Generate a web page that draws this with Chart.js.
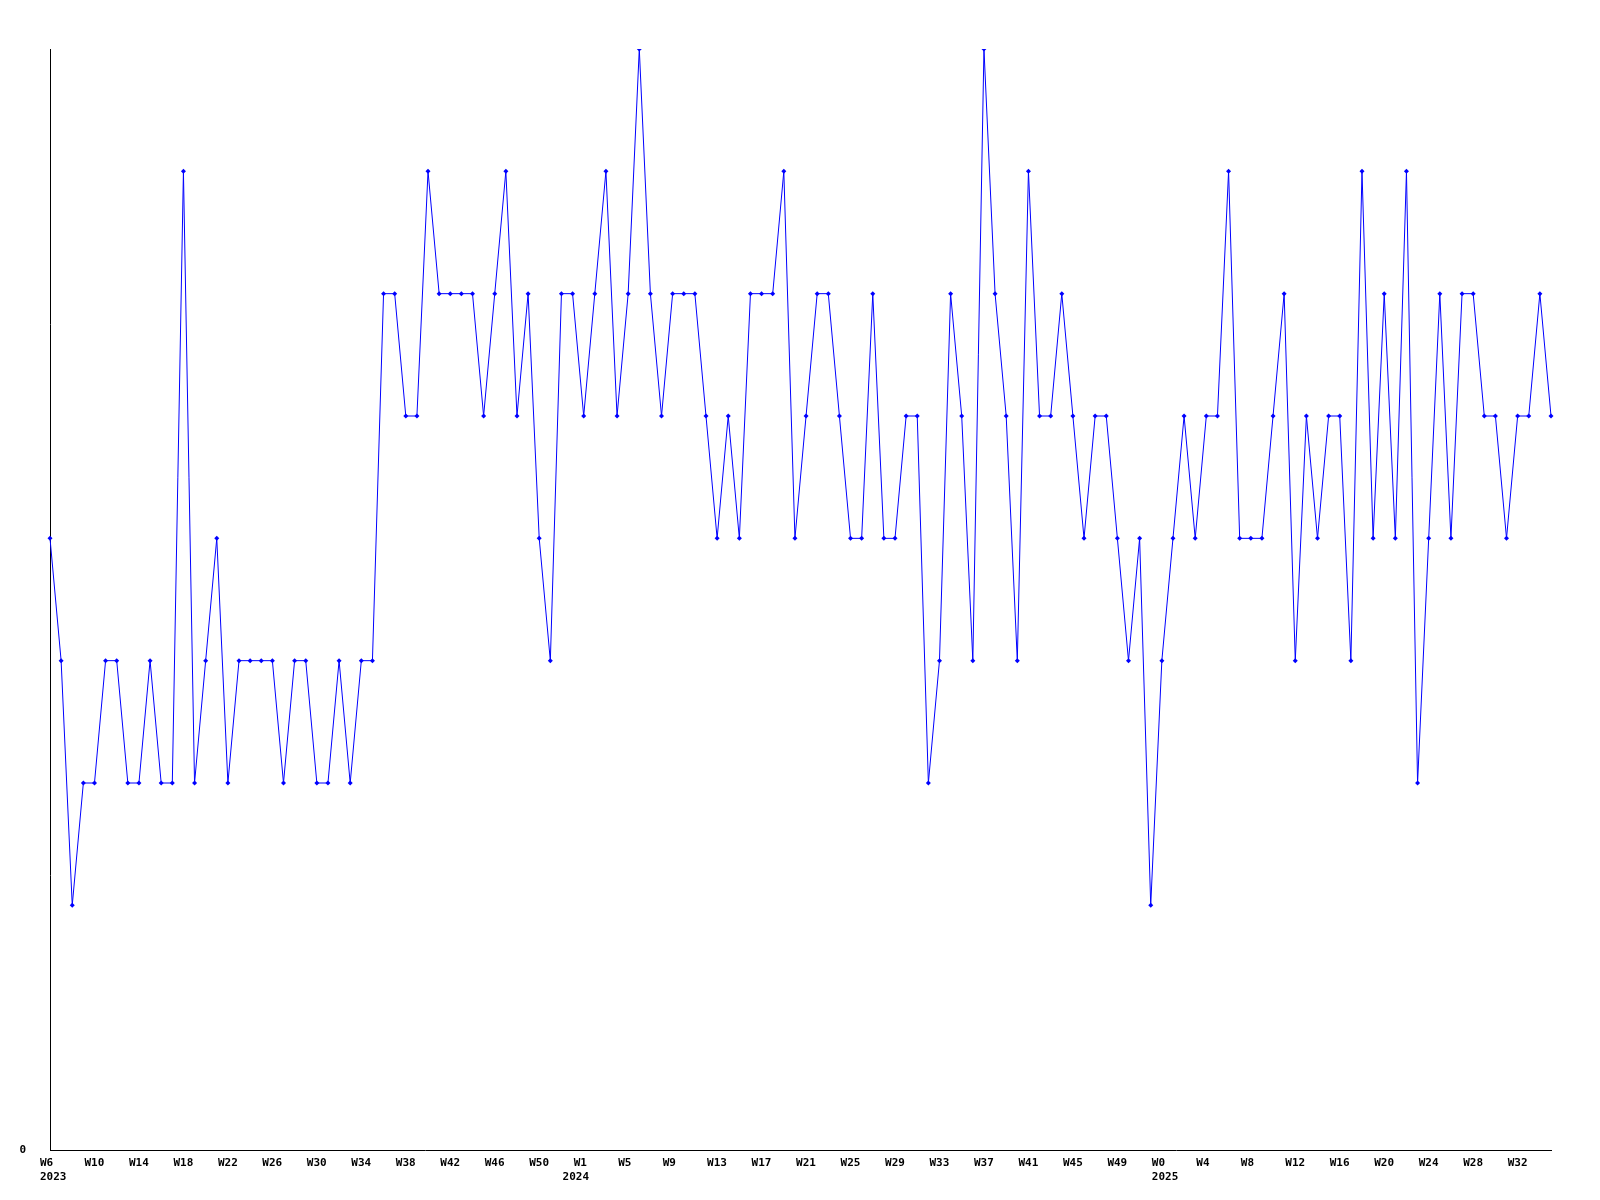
<!DOCTYPE html>
<html>
<head>
<meta charset="utf-8">
<script src="https://cdn.jsdelivr.net/npm/chart.js@4.4.0/dist/chart.umd.min.js"></script>
<style>
  html, body { margin: 0; padding: 0; background: #fff; }
  #wrap { width: 1600px; height: 1200px; }
</style>
</head>
<body>
<div id="wrap"><canvas id="grafico" width="1600" height="1200"></canvas></div>
<script>
// --- DADOS ---
const years = ['2023', '2024', '2025'];
const firstWeek = [6, 1, 0];
// posição do rótulo de ano (semana onde cai 1º de janeiro)
const yearLabelIndex = [0, 47, 100];

const values2023 = [5, 4, 2, 3, 3, 4, 4, 3, 3, 4, 3, 3, 8, 3, 4, 5, 3, 4, 4, 4,
                    4, 3, 4, 4, 3, 3, 4, 3, 4, 4, 7, 7, 6, 6, 8, 7, 7, 7, 7, 6,
                    7, 8, 6, 7, 5, 4, 7, 7];
const values2024 = [6, 7, 8, 6, 7, 9, 7, 6, 7, 7, 7, 6, 5, 6, 5, 7, 7, 7, 8, 5,
                    6, 7, 7, 6, 5, 5, 7, 5, 5, 6, 6, 3, 4, 7, 6, 4, 9, 7, 6, 4,
                    8, 6, 6, 7, 6, 5, 6, 6, 5, 4, 5, 2];
const values2025 = [4, 5, 6, 5, 6, 6, 8, 5, 5, 5, 6, 7, 4, 6, 5, 6, 6, 4, 8, 5,
                    7, 5, 8, 3, 5, 7, 5, 7, 7, 6, 6, 5, 6, 6, 7, 6];

const yTicks = [0];
const yMax = 9;

// monta rótulos semanais
const seriesPorAno = [values2023, values2024, values2025];
const labels = [];
const valores = [];
seriesPorAno.forEach((serie, a) => {
    serie.forEach((v, i) => {
        labels.push('W' + (firstWeek[a] + i));
        valores.push(v);
    });
});
const yearAt = {};
yearLabelIndex.forEach((idx, a) => { yearAt[idx] = years[a]; });

const fonte = { family: '"DejaVu Sans Mono", monospace', size: 11, weight: 'bold', lineHeight: 1.3 };

new Chart(document.getElementById('grafico').getContext('2d'), {
    type: 'line',
    data: {
        labels: labels,
        datasets: [{
            data: valores,
            borderColor: '#0000ff',
            backgroundColor: '#0000ff',
            borderWidth: 1,
            tension: 0,
            pointStyle: 'rectRot',
            pointRadius: 2.5,
            pointBorderWidth: 0,
            pointBackgroundColor: '#0000ff'
        }]
    },
    options: {
        responsive: false,
        animation: false,
        layout: { padding: { top: 49, right: 49, left: 0, bottom: 0 } },
        plugins: { legend: { display: false }, tooltip: { enabled: false } },
        scales: {
            x: {
                type: 'category',
                offset: false,
                grid: { display: false, drawTicks: false, tickLength: 0 },
                border: { display: true, color: '#000', width: 1 },
                afterFit: (s) => { s.height = 50; },
                ticks: {
                    autoSkip: false,
                    maxRotation: 0,
                    minRotation: 0,
                    align: 'start',
                    labelOffset: -10,
                    padding: 6,
                    color: '#000',
                    font: fonte,
                    callback: function (val, idx) {
                        const w = idx % 4 === 0 ? this.getLabelForValue(val) : '';
                        if (yearAt[idx]) return [w, yearAt[idx]];
                        return w || null;
                    }
                }
            },
            y: {
                min: 0,
                max: yMax,
                grid: { display: false, drawTicks: false, tickLength: 0 },
                border: { display: true, color: '#000', width: 1 },
                afterFit: (s) => { s.width = 50; },
                afterBuildTicks: (s) => { s.ticks = yTicks.map(v => ({ value: v })); },
                ticks: {
                    padding: 24,
                    color: '#000',
                    font: fonte
                }
            }
        }
    }
});
</script>
</body>
</html>
